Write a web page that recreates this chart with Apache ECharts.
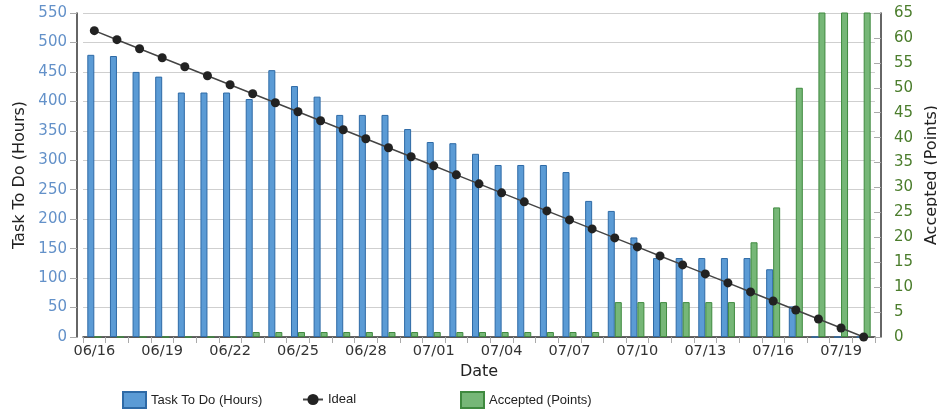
<!DOCTYPE html>
<html><head><meta charset="utf-8">
<script src="https://cdn.jsdelivr.net/npm/echarts@6/dist/echarts.min.js"></script>
<style>html,body{margin:0;padding:0;background:#fff}#c{width:937px;height:413px}</style>
</head><body><div id="c"></div>
<script>
const categories = ['06/16','06/17','06/18','06/19','06/20','06/21','06/22','06/23','06/24','06/25','06/26','06/27','06/28','06/29','06/30','07/01','07/02','07/03','07/04','07/05','07/06','07/07','07/08','07/09','07/10','07/11','07/12','07/13','07/14','07/15','07/16','07/17','07/18','07/19','07/20'];
const taskToDo = [479,477,450,442,415,415,415,404,453,426,408,377,377,377,353,331,329,311,292,292,292,280,231,214,169,134,134,134,134,134,115,52,0,0,0];
const ideal = [520,504.7,489.4,474.1,458.8,443.5,428.2,412.9,397.6,382.4,367.1,351.8,336.5,321.2,305.9,290.6,275.3,260,244.7,229.4,214.1,198.8,183.5,168.2,152.9,137.6,122.4,107.1,91.8,76.5,61.2,45.9,30.6,15.3,0];
const accepted = [0,0,0,0,0,0,0,1,1,1,1,1,1,1,1,1,1,1,1,1,1,1,1,7,7,7,7,7,7,19,26,50,70,70,70];

const chart = echarts.init(document.getElementById('c'));
const axisFont = 'DejaVu Sans';
const legText = {fontFamily: 'Liberation Sans', fontSize: 13, color: '#222'};
chart.setOption({
  animation: false,
  textStyle: {fontFamily: axisFont},
  grid: {left: 83, right: 62, top: 13, bottom: 76, containLabel: false, outerBoundsMode: 'none'},
  legend: [
    {data: [{name: 'Task To Do (Hours)', icon: 'rect'}], left: 122, top: 391, padding: 0, itemWidth: 23, itemHeight: 16, itemGap: 5, textStyle: legText},
    {data: ['Ideal'], left: 302, top: 393, padding: 0, itemWidth: 20, itemHeight: 14, textStyle: legText},
    {data: [{name: 'Accepted (Points)', icon: 'rect'}], left: 460, top: 391, padding: 0, itemWidth: 23, itemHeight: 16, textStyle: legText}
  ],
  xAxis: {
    type: 'category', data: categories, boundaryGap: true,
    name: 'Date', nameLocation: 'middle', nameGap: 27,
    nameTextStyle: {fontSize: 16, color: '#222', fontFamily: axisFont},
    axisLine: {lineStyle: {color: '#333', width: 1.5}},
    axisTick: {show: true, interval: 0, length: 6, lineStyle: {color: '#aaa'}},
    axisLabel: {interval: 2, color: '#333', fontSize: 14.5, margin: 7, fontFamily: axisFont},
    splitLine: {show: false}
  },
  yAxis: [
    {type: 'value', min: 0, max: 550, interval: 50, offset: 6, position: 'left',
     name: 'Task To Do (Hours)', nameLocation: 'middle', nameGap: 49, nameRotate: 90,
     nameTextStyle: {fontSize: 16, color: '#222', fontFamily: axisFont},
     axisLine: {show: true, lineStyle: {color: '#333', width: 1.5}},
     axisTick: {show: true, length: 7, lineStyle: {color: '#aaa'}},
     axisLabel: {color: '#6391c9', fontSize: 15, margin: 10, fontFamily: axisFont},
     splitLine: {show: true, lineStyle: {color: '#cfcfcf', width: 1}}},
    {type: 'value', min: 0, max: 65, interval: 5, offset: 6, position: 'right',
     name: 'Accepted (Points)', nameLocation: 'middle', nameGap: 42, nameRotate: 90,
     nameTextStyle: {fontSize: 16, color: '#222', fontFamily: axisFont},
     axisLine: {show: true, lineStyle: {color: '#333', width: 1.5}},
     axisTick: {show: true, inside: true, length: 7, lineStyle: {color: '#aaa'}},
     axisLabel: {color: '#4b7d2c', fontSize: 15, margin: 13, fontFamily: axisFont},
     splitLine: {show: false}}
  ],
  series: [
    {name: 'Task To Do (Hours)', type: 'bar', yAxisIndex: 0, data: taskToDo, barWidth: 7, barGap: '0%',
     itemStyle: {color: '#5b9bd5', borderColor: '#2e6aa6', borderWidth: 1}},
    {name: 'Accepted (Points)', type: 'bar', yAxisIndex: 1, data: accepted, barWidth: 7, clip: true,
     itemStyle: {color: '#76b777', borderColor: '#3f8a3f', borderWidth: 1}},
    {name: 'Ideal', type: 'line', yAxisIndex: 0, data: ideal, symbol: 'circle', symbolSize: 9, z: 10,
     lineStyle: {color: '#444', width: 1.5}, itemStyle: {color: '#222'}}
  ]
});
</script></body></html>
